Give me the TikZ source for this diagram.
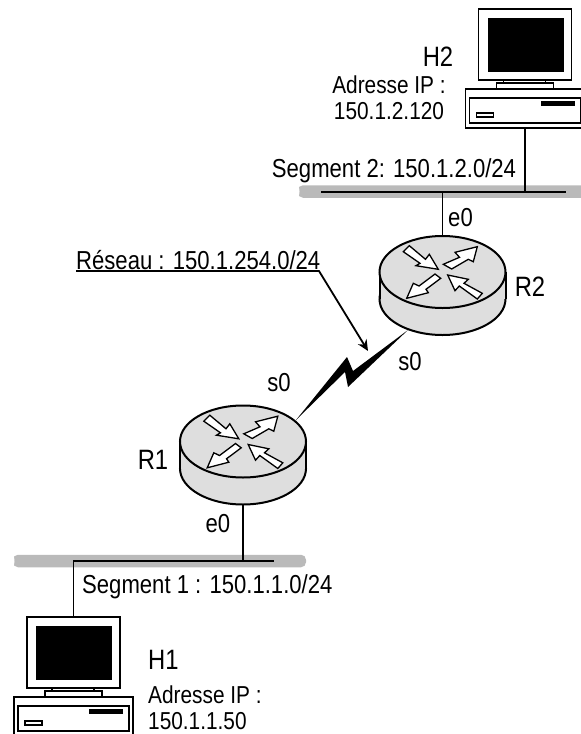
\documentclass[tikz,border=0pt]{standalone}
\usepackage{fontspec}
\setmainfont[FakeStretch=0.85]{Liberation Sans}
\usetikzlibrary{arrows.meta, positioning}

\definecolor{routergrey}{HTML}{DEDEDE}
\definecolor{busgrey}{HTML}{BABABA}
\tikzset{
    pics/router/.style={code={
        \draw[outline, fill=routergrey] (0,27) ellipse [x radius=63, y radius=36];
        \fill[routergrey] (-62,0) rectangle (62,27);
        \draw[outline] (-63,0) -- (-63,27) (63,0) -- (63,27);
        \draw[outline, fill=routergrey] (0,0) ellipse [x radius=63, y radius=36];
        \draw[spoke] (-33.2,-26.3) -- (-17,-12.7) -- (-13.2,-17.7) -- (-4.2,-2.7) -- (-26.5,-6.3) -- (-22.5,-8.7) -- (-39.2,-20.3) -- cycle;
        \draw[spoke] (34.8,-25.3) -- (12.5,-19.7) -- (17,-14.7) -- (0.8,-7.7) -- (9.2,-3) -- (25.8,-12.7) -- (30.8,-10.3) -- cycle;
        \draw[spoke] (-7.5,2) -- (-1.8,6.3) -- (-16.5,17.3) -- (-14.2,20.7) -- (-35.8,26.3) -- (-29.2,11.3) -- (-23.5,14) -- cycle;
        \draw[spoke] (5.2,3) -- (25.8,7.3) -- (21.5,11.3) -- (39.8,21.3) -- (34.8,27) -- (16.8,14) -- (12.5,18.7) -- cycle;
    }},
    pics/computer/.style={code={
        \draw[thin outline] (-46.5,-59.5) rectangle (46.5,11.5);
        \fill (-37.5,-50.5) rectangle (38.5,3.5);
        \draw[thin outline] (-21.5,11.5) rectangle (20.5,14.5);
        \draw[thin outline] (-28.5,14.5) rectangle (28.5,20.5);
        \draw[thin outline] (-59.5,20.5) rectangle (59.5,59.5);
        \draw[thin outline] (-55.5,29.5) rectangle (55.5,54.5);
        \fill (15.5,32.5) rectangle (49.5,37.5);
        \draw[thin outline] (-48.5,44.5) rectangle (-31.5,48.5);
    }}
}

\begin{document}
\begin{tikzpicture}[
        x=1pt, y=-1pt,
        outline/.style={line width=2pt},
        thin outline/.style={line width=1.3pt},
        spoke/.style={draw, line width=1.3pt, fill=white, line join=miter},
        wire/.style={line width=1.2pt},
        holder/.style={inner sep=0pt, outer sep=0pt, minimum width=#1},
        bus/.style={fill=busgrey, rounded corners=5pt, inner sep=0pt, outer sep=0pt, minimum height=12.5pt},
        netlabel/.style={font=\fontsize{26}{26}\selectfont, align=center, inner sep=0pt},
        addrlabel/.style={font=\fontsize{24.5}{26}\selectfont, align=left, inner sep=0pt},
        biglabel/.style={font=\fontsize{28}{30}\selectfont, inner sep=0pt}
    ]
        \clip (0,0) rectangle (581,734);

        % Buses
        \node[bus, minimum width=293pt] (bus1) at (159.5,561) {};
        \node[bus, minimum width=302pt] (bus2) at (449,191.5) {};
        \fill[white] (bus1.west) ellipse [x radius=1.5, y radius=5];
        \fill[white] (bus2.west) ellipse [x radius=1.5, y radius=5];
        \coordinate (line1end) at (274,561);
        \coordinate (line2start) at (321,192);
        \coordinate (line2end) at (566,192);

        % Routers
        \node[holder=127pt, minimum height=98pt] (R2) at (442.5,285.5) {};
        \node[holder=127pt, minimum height=98pt] (R1) at (243,455) {};
        \pic at (442.5,272) {router};
        \pic at (243,441.5) {router};

        % Hosts
        \node[holder=119pt, minimum height=119pt] (H2) at (525,68.5) {};
        \node[holder=119pt, minimum height=119pt] (H1) at (73.5,676.5) {};
        \pic at (H2) {computer};
        \pic at (H1) {computer};

        % Wires
        \draw[wire] (line2start) -- (line2end);
        \draw[wire] (H1.north) |- (line1end);
        \draw[wire] (R1.south) -- (R1.south |- line1end);
        \draw[wire] (R2.north) -- (R2.north |- line2end);
        \draw[wire] (H2.south) -- (H2.south |- line2end);

        % Serial link
        \coordinate (bolt1) at (296,420);
        \coordinate (bolt2) at (408,330);
        \fill (bolt1) -- (347,357) -- (353,371) -- (bolt2) -- (348,387) -- (345,372) -- cycle;

        % Pointer
        \coordinate (netstart) at (76,271);
        \coordinate (netbend) at (319,271);
        \coordinate (nettip) at (368,351);
        \draw[line width=1.8pt, -{Stealth[length=11pt, width=10pt]}] (netstart) -- (netbend) -- (nettip);

        % Labels
        \node[netlabel, anchor=west] (netname) at (76,260) {Réseau : 150.1.254.0/24};
        \node[netlabel] (seg2) at (394,171) {Segment 2: 150.1.2.0/24};
        \node[netlabel, anchor=west] (seg1) at (82,587) {Segment 1 : 150.1.1.0/24};
        \node[biglabel] (H2name) at (438,57) {H2};
        \node[addrlabel, align=center] (H2addr) at (389,98) {Adresse IP :\\150.1.2.120};
        \node[biglabel, anchor=west] (H1name) at (148,660) {H1};
        \node[addrlabel, anchor=west] (H1addr) at (148,708) {Adresse IP :\\150.1.1.50};
        \node[biglabel] (R2name) at (530,287) {R2};
        \node[biglabel] (R1name) at (153,460) {R1};
        \node[netlabel] (e0top) at (460.5,218) {e0};
        \node[netlabel] (e0bot) at (218,524) {e0};
        \node[netlabel] (s0right) at (410,362) {s0};
        \node[netlabel] (s0left) at (279,383) {s0};

    \end{tikzpicture}
\end{document}
